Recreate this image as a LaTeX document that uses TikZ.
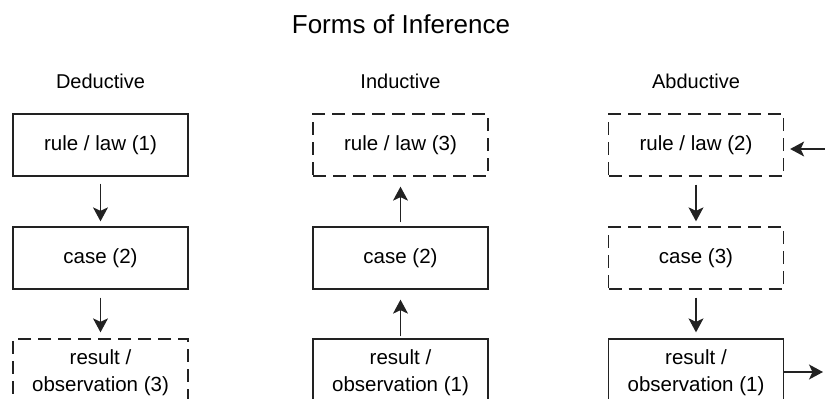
\documentclass[tikz,border=0pt]{standalone}
\usepackage{fontspec}
\setmainfont{Liberation Sans}
\usepackage{tikz}
\usetikzlibrary{arrows.meta,calc,positioning}
\usepackage{xcolor}
\definecolor{ink}{HTML}{222222}

\begin{document}
\begin{tikzpicture}[x=1pt,y=-1pt,
  box/.style={draw=ink,line width=1.3pt,minimum width=175pt,minimum height=62pt,inner sep=0pt,
    align=center,font=\fontsize{20.5}{27}\selectfont},
  dbox/.style={box,dash pattern=on 13pt off 7pt},
  conn/.style={draw=ink,line width=1.3pt,-{Stealth[length=14pt,width=15pt,inset=3.5pt]}},
  lbl/.style={anchor=base,font=\fontsize{20}{24}\selectfont}]
  \useasboundingbox (0,0) rectangle (825,399);
  \clip (0,0) rectangle (825,399);
  \node[anchor=base,font=\fontsize{26}{30}\selectfont] (title) at (401,33) {Forms of Inference};
  % deductive
  \node[lbl] (ded) at (100.5,88) {Deductive};
  \node[box] (rule1) at (100.5,145) {rule / law (1)};
  \node[box] (case1) at (100.5,258) {case (2)};
  \node[dbox,minimum height=68pt] (res1) at (100.5,373) {result /\\observation (3)};
  \draw[conn,shorten <=7pt,shorten >=5pt] (rule1) -- (case1);
  \draw[conn,shorten <=8pt,shorten >=6pt] (case1) -- (res1);
  % inductive
  \node[lbl] (ind) at (400.5,88) {Inductive};
  \node[dbox] (rule2) at (400.5,145) {rule / law (3)};
  \node[box] (case2) at (400.5,258) {case (2)};
  \node[box,minimum height=68pt] (res2) at (400.5,373) {result /\\observation (1)};
  \draw[conn,shorten <=4pt,shorten >=10pt] (case2) -- (rule2);
  \draw[conn,shorten <=2pt,shorten >=10pt] (res2) -- (case2);
  % abductive
  \node[lbl] (abd) at (696,88) {Abductive};
  \node[dbox] (rule3) at (696,145) {rule / law (2)};
  \node[dbox] (case3) at (696,258) {case (3)};
  \node[box,minimum height=68pt] (res3) at (696,373) {result /\\observation (1)};
  \draw[conn,shorten <=8pt,shorten >=5pt] (rule3) -- (case3);
  \draw[conn,shorten <=8pt,shorten >=6pt] (case3) -- (res3);
  \coordinate (in) at (826,149);
  \coordinate (out) at (823,372);
  \draw[conn,shorten >=6pt] (in) -- (in -| rule3.east);
  \draw[conn] (out -| res3.east) -- (out);
\end{tikzpicture}
\end{document}
